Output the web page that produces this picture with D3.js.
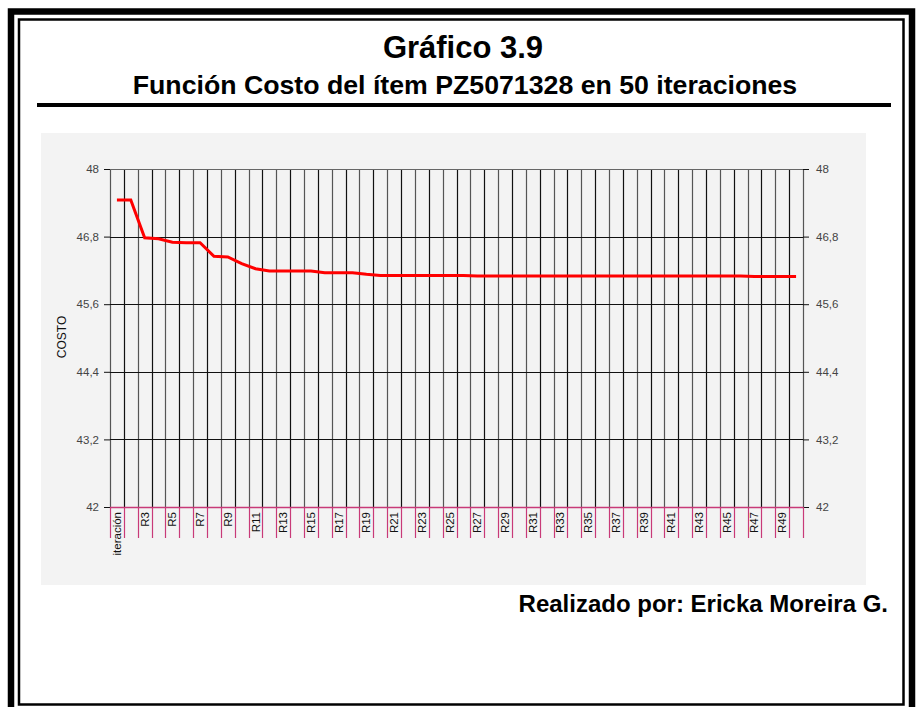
<!DOCTYPE html>
<html>
<head>
<meta charset="utf-8">
<script src="https://cdn.jsdelivr.net/npm/d3@7"></script>
<style>
  body { margin: 0; background: #fff; }
  svg { display: block; font-family: Arial, "Liberation Sans", sans-serif; }
</style>
</head>
<body>
<div class="container"></div>
<script>
const width = 916,
    height = 707;

// data
const categories = ["iteración"].concat(d3.range(2, 51).map(n => "R" + n));
const costValues = [
  47.45, 47.45, 46.78, 46.76, 46.70, 46.69, 46.69, 46.45, 46.44, 46.32,
  46.23, 46.19, 46.19, 46.19, 46.19, 46.16, 46.16, 46.16, 46.13, 46.11,
  46.11, 46.11, 46.11, 46.11, 46.11, 46.11, 46.10, 46.10, 46.10, 46.10,
  46.10, 46.10, 46.10, 46.10, 46.10, 46.10, 46.10, 46.10, 46.10, 46.10,
  46.10, 46.10, 46.10, 46.10, 46.10, 46.10, 46.09, 46.09, 46.09, 46.09
];
const yTicks = [42, 43.2, 44.4, 45.6, 46.8, 48];

const plot = { left: 110, right: 803, top: 169, bottom: 507 };

const locale = d3.formatLocale({ decimal: ",", thousands: ".", grouping: [3], currency: ["", ""] });
const fmt = locale.format("~g");

const svg = d3.select(".container")
  .append("svg")
  .attr("width", width)
  .attr("height", height);

// frames
const createFrame = () => {
  svg.append("rect")
    .attr("x", 11).attr("y", 11.5)
    .attr("width", 901).attr("height", 705)
    .attr("fill", "none").attr("stroke", "#000").attr("stroke-width", 6.5);
  svg.append("rect")
    .attr("x", 19).attr("y", 19.5)
    .attr("width", 884.5).attr("height", 685)
    .attr("fill", "none").attr("stroke", "#000").attr("stroke-width", 2.5);
};

const createTitles = () => {
  svg.append("text")
    .attr("x", 463).attr("y", 58)
    .attr("text-anchor", "middle")
    .style("font-weight", "bold").style("font-size", "31px")
    .text("Gráfico 3.9");
  svg.append("text")
    .attr("x", 465).attr("y", 94)
    .attr("text-anchor", "middle")
    .style("font-weight", "bold").style("font-size", "26.7px")
    .text("Función Costo del ítem PZ5071328 en 50 iteraciones");
  svg.append("rect")
    .attr("x", 37).attr("y", 103)
    .attr("width", 854).attr("height", 4)
    .attr("fill", "#000");
  svg.append("text")
    .attr("x", 888).attr("y", 612)
    .attr("text-anchor", "end")
    .style("font-weight", "bold").style("font-size", "24px")
    .text("Realizado por: Ericka Moreira G.");
};

const defineScales = () => {
  const xScale = d3.scaleBand()
    .domain(categories)
    .range([plot.left, plot.right])
    .paddingInner(0).paddingOuter(0);
  const yScale = d3.scaleLinear()
    .domain([42, 48])
    .range([plot.bottom, plot.top]);
  return { xScale, yScale };
};

const createChart = (scales) => {
  const { xScale, yScale } = scales;

  svg.append("rect")
    .attr("x", 41).attr("y", 133)
    .attr("width", 825).attr("height", 452)
    .attr("fill", "#f3f3f3");

  const bounds = categories.map(c => xScale(c)).concat([plot.right]);

  // vertical grid at category boundaries
  svg.append("g").selectAll("line")
    .data(bounds)
    .enter().append("line")
    .attr("x1", d => Math.round(d) + 0.5).attr("x2", d => Math.round(d) + 0.5)
    .attr("y1", plot.top).attr("y2", plot.bottom)
    .attr("stroke", (d, i) => i % 2 ? "#111" : "#555")
    .attr("stroke-width", 1.2);

  // horizontal grid
  svg.append("g").selectAll("line")
    .data(yTicks)
    .enter().append("line")
    .attr("x1", plot.left).attr("x2", plot.right)
    .attr("y1", d => Math.round(yScale(d)) + 0.5).attr("y2", d => Math.round(yScale(d)) + 0.5)
    .attr("stroke", d => d === 48 ? "#666" : "#111")
    .attr("stroke-width", 1.2);

  // left & right value axes
  const left = svg.append("g")
    .attr("transform", `translate(${plot.left},0)`)
    .call(d3.axisLeft(yScale).tickValues(yTicks).tickSize(6).tickFormat(fmt));
  const right = svg.append("g")
    .attr("transform", `translate(${plot.right},0)`)
    .call(d3.axisRight(yScale).tickValues(yTicks).tickSize(6).tickFormat(fmt));
  [left, right].forEach(g => {
    g.select(".domain").remove();
    g.selectAll(".tick line").attr("stroke", "#111");
    g.selectAll(".tick text")
      .attr("fill", "#444")
      .style("font-size", "11.5px")
      .style("font-family", "Arial, 'Liberation Sans', sans-serif");
  });
  left.selectAll(".tick text").attr("x", -11);
  right.selectAll(".tick text").attr("x", 13);

  // category axis (pink)
  svg.append("line")
    .attr("x1", plot.left).attr("x2", plot.right)
    .attr("y1", plot.bottom + 0.5).attr("y2", plot.bottom + 0.5)
    .attr("stroke", "#c83a78").attr("stroke-width", 1.3);
  svg.append("g").selectAll("line")
    .data(bounds)
    .enter().append("line")
    .attr("x1", d => Math.round(d) + 0.5).attr("x2", d => Math.round(d) + 0.5)
    .attr("y1", plot.bottom).attr("y2", plot.bottom + 31)
    .attr("stroke", "#c83a78").attr("stroke-width", 1.2);

  svg.append("g").selectAll("text")
    .data(categories.filter((c, i) => i % 2 === 0))
    .enter().append("text")
    .attr("transform", d => `translate(${xScale(d) + xScale.bandwidth() / 2 + 4},512) rotate(-90)`)
    .attr("text-anchor", "end")
    .style("font-size", "11.5px")
    .attr("fill", "#111")
    .text(d => d);

  svg.append("text")
    .attr("transform", "translate(66,337) rotate(-90)")
    .attr("text-anchor", "middle")
    .style("font-size", "12px")
    .attr("fill", "#111")
    .text("COSTO");

  // cost line
  const line = d3.line()
    .x((d, i) => xScale(categories[i]) + xScale.bandwidth() / 2)
    .y(d => yScale(d));
  svg.append("path")
    .datum(costValues)
    .attr("d", line)
    .attr("fill", "none")
    .attr("stroke", "#ff0000")
    .attr("stroke-width", 3);
};

createFrame();
createTitles();
const scales = defineScales();
createChart(scales);
</script>
</body>
</html>
